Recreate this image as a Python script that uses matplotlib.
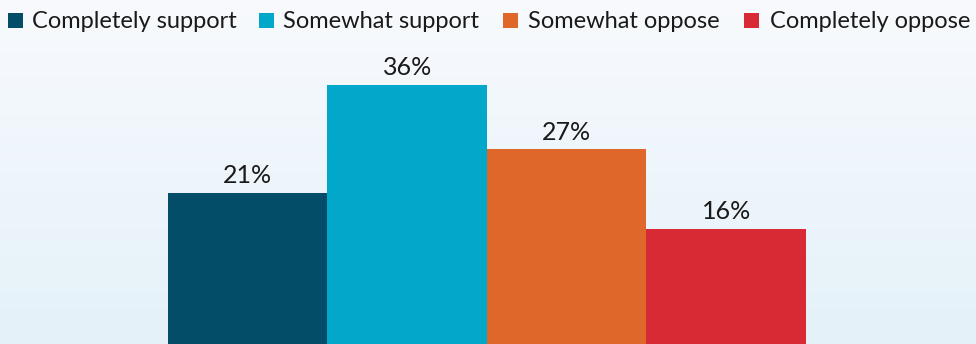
import matplotlib
matplotlib.use("Agg")
import matplotlib.pyplot as plt
import numpy as np
from matplotlib.patches import Rectangle

categories = ["Completely support", "Somewhat support", "Somewhat oppose", "Completely oppose"]
values = [21, 36, 27, 16]
colors = ["#044d68", "#02a8ca", "#e0672a", "#d72a35"]

plt.rcParams['font.family'] = ['Lato', 'DejaVu Sans']

W, H = 976, 344
fig = plt.figure(figsize=(W / 100, H / 100), dpi=100)
ax = fig.add_axes([0, 0, 1, 1])

# gradient background
grad = np.linspace(0, 1, 256).reshape(-1, 1)
top = np.array([0xf8, 0xfa, 0xfd]) / 255
bot = np.array([0xe4, 0xf1, 0xf9]) / 255
img = top[None, None, :] * (1 - grad[:, :, None]) + bot[None, None, :] * grad[:, :, None]
ax.imshow(img, extent=[0, 1, 0, 1], transform=ax.transAxes, aspect='auto', zorder=0)

x = np.arange(len(values))
bars = ax.bar(x, values, width=1.0, color=colors, zorder=2)
for xi, v in zip(x, values):
    ax.annotate(f"{v}%", (xi, v), xytext=(0, 4), textcoords="offset points",
                ha="center", va="bottom", fontsize=18, color="#1a1a1a", zorder=3)

ax.set_xlim(-1.553, 4.566)
ax.set_ylim(0, 47.75)
ax.axis('off')

# legend (manual layout)
sq_left = [8, 259, 503, 744]
txt_left = [32, 283, 528, 770]
for sl, tl, c, lab in zip(sq_left, txt_left, colors, categories):
    fig.patches.append(Rectangle((sl / W, 1 - 28 / H), 15 / W, 15 / H,
                                 transform=fig.transFigure, facecolor=c, edgecolor='none'))
    fig.text(tl / W, 1 - 28 / H, lab, ha='left', va='baseline', fontsize=17, color="#1a1a1a")

fig.savefig("out.png", dpi=100)
